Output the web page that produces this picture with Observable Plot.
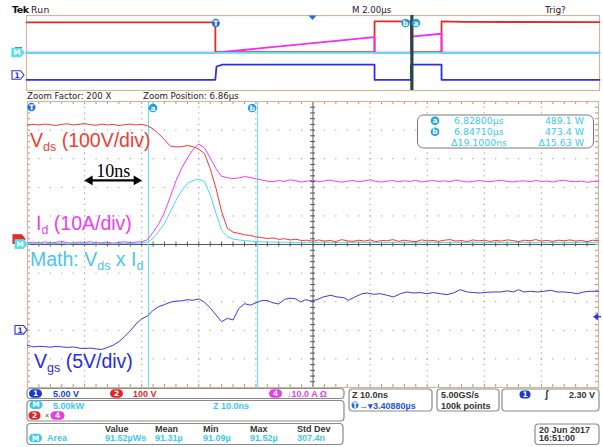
<!DOCTYPE html>
<html>
<head>
<meta charset="utf-8">
<script src="https://cdn.jsdelivr.net/npm/d3@7"></script>
<script src="https://cdn.jsdelivr.net/npm/@observablehq/plot@0.6"></script>
<style>
  body { margin: 0; background: #fff; }
  #scope { position: relative; width: 603px; height: 447px; overflow: hidden; background: #fff; }
  #scope > svg { position: absolute; left: 0; top: 0; }
</style>
</head>
<body>
<div id="scope"></div>
<script>
// ---------- acquisition settings ----------
const overviewUsPerDiv = 2;          // main timebase, µs/div
const zoomNsPerDiv = 10;             // zoom timebase, ns/div
const triggerToCenterUs = 3.4088;    // trigger -> screen centre
const zoomPositionUs = 6.86;
const windowStartNs = 6806.8;        // left edge of the zoom window
const cursorNs = [6828.0, 6847.1];   // cursors a, b
const cursorW = [489.06, 473.43];    // Math value at cursors a, b

// channel scaling (units per division) and ground position (divisions from centre)
const perDiv = { Vds: 100, Id: 10, Math: 5, Vgs: 5 };
const groundDiv = { Vds: 0.12, Id: 0.035, Math: 0, Vgs: -3 };
const traceColor = { Vds: "#ec3a30", Id: "#f03cf0", Math: "#44dcee", Vgs: "#3838e6" };

// ---------- zoom window samples (1 ns apart) ----------
const sampleNs = d3.range(101).map(i => windowStartNs + i);

const vdsVolts = [
  405, 408, 406, 409, 407, 404, 408, 410, 406, 408, 411, 407, 405, 409, 406, 408, 404, 407, 409, 406, 408,
  403, 392, 375, 354, 332, 329, 330, 334, 330, 321, 306, 253, 185, 103, 45, 31, 27, 22, 20, 15, 12, 9, 11, 6, 8, 4, 6, 2,
  3, -1, 4, 0, 2, -2, 5, 1, -1, 3, 0, 4, -2, 2, 1, 5, -1, 3, 0, -2,
  4, 1, 2, -1, 3, 5, 0, 2, -2, 4, 1, 3, -1, 2, 0, 4, 2, -2, 3, 1,
  5, 0, 2, -1, 3, 1, 4, 0, 2, -2, 3, 1
];

const idAmps = [
  0.3, 0.5, 0.1, 0.6, 0.2, 0.4, 0.7, 0.3, 0.1, 0.5, 0.4, 0.6, 0.2, 0.3, 0.5, 0.1, 0.4, 0.6, 0.3, 0.5, 0.6,
  1.3, 3.9, 6.9, 11.0, 16.3, 21.9, 26.4, 29.8, 32.9, 34.8, 33.4, 30.0, 26.2, 23.5, 23.0, 22.7, 22.9, 23.4, 23.1, 22.6, 22.2, 21.8,
  21.6, 22.0, 21.7, 22.3, 21.9, 21.5, 21.8, 22.1, 21.6, 21.9,
  22.2, 21.7, 21.4, 21.8, 22.0, 21.6, 21.9, 22.3, 21.7, 21.5,
  21.8, 22.0, 21.6, 21.9, 21.7, 22.1, 21.5, 21.8, 22.0, 21.7,
  21.9, 21.6, 22.2, 21.8, 21.5, 21.7, 22.0, 21.8, 21.6, 21.9,
  22.1, 21.7, 21.5, 21.8, 21.9, 21.6, 22.0, 21.7, 21.8, 21.5,
  21.9, 22.1, 21.7, 21.6, 21.8, 21.4, 21.7, 21.9
];

const mathKW = [
  0.15, 0.2, 0.1, 0.25, 0.12, 0.18, 0.22, 0.1, 0.16, 0.2, 0.14, 0.24, 0.1, 0.18, 0.2, 0.12, 0.16, 0.22, 0.14, 0.2, 0.28,
  0.42, 1.1, 2.3, 3.7, 5.7, 7.7, 9.4, 10.7, 11.2, 11.4, 11.0, 8.7, 5.5, 2.5, 1.4, 0.95, 0.8, 0.68, 0.6, 0.49, 0.46, 0.43, 0.41, 0.38,
  0.42, 0.35, 0.4, 0.32, 0.38, 0.3, 0.36, 0.41, 0.33, 0.37,
  0.29, 0.39, 0.34, 0.42, 0.31, 0.36, 0.4, 0.3, 0.37, 0.33,
  0.41, 0.32, 0.36, 0.28, 0.39, 0.34, 0.42, 0.31, 0.37, 0.33,
  0.4, 0.35, 0.3, 0.41, 0.34, 0.37, 0.31, 0.42, 0.35, 0.29,
  0.38, 0.33, 0.4, 0.32, 0.36, 0.42, 0.3, 0.35, 0.39, 0.33,
  0.37, 0.31, 0.41, 0.34, 0.32, 0.37
];

// gate voltage, ns from window start
const vgsNs = [
  0, 1, 2, 3, 4, 5, 6, 7, 8, 9, 10, 11, 12, 13, 14, 15, 16, 17, 18, 19, 20, 21, 22, 23, 24,
  25, 26, 27, 28, 29, 30, 31, 32, 33, 34, 35, 36, 37, 38, 39, 40, 41, 42, 43, 44, 45, 46, 47,
  47.8, 48.7, 49.6, 50.7, 51.8, 53.1, 54.2, 55.4, 56.2, 57.1, 58.6, 59.5, 60.6, 61.8, 63, 64.1,
  65.3, 66.5, 67.6, 68.8, 70, 71.1, 72.3, 73.5, 74.6, 75.8, 77, 78.1, 79.3, 80.5, 81.6, 82.8,
  84, 85.1, 86, 86.9, 88.1, 89.3, 90.4, 91.6, 92.8, 93.9, 95.1, 96.3, 97.4, 98.6, 100
];
const vgsVolts = [
  -2.6, -2.9, -2.8, -2.85, -2.95, -2.8, -2.9, -3.0, -2.9, -3.1, -3.2, -3.1, -3.25, -3.35, -3.0, -2.6, -2.0, -1.1, -0.1, 1.1,
  2.0, 2.5, 3.5, 4.15, 4.5, 4.9, 5.1, 5.15, 5.35, 5.25, 5.5, 4.9, 3.9, 2.7, 1.5, 2.1, 1.8, 3.8, 4.65, 4.4, 4.8, 5.2, 5.2, 4.8,
  4.6, 5.4, 5.6, 5.5,
  4.95, 5.36, 5.13, 5.36, 5.83, 6.12, 5.83, 5.71, 5.24, 5.71, 6.4, 6.52, 6.29, 6.4, 6.12, 5.83,
  6.4, 6.7, 6.52, 6.6, 6.4, 6.6, 6.4, 6.24, 6.52, 7.1, 6.7, 6.6, 6.52, 6.65, 6.7, 6.7,
  6.9, 6.7, 7.1, 6.7, 6.82, 6.7, 6.82, 7.0, 6.7, 6.7, 6.6, 6.4, 6.7, 6.82, 6.82
];

// ---------- record-length overview (µs from trigger) ----------
const overviewStartUs = triggerToCenterUs - 5 * overviewUsPerDiv;
const overviewEndUs = triggerToCenterUs + 5 * overviewUsPerDiv;
const ovVdsUs = [overviewStartUs, 0, 0, 5.557, 5.557, 6.828, 6.828, 7.895, 7.895, 8.6, overviewEndUs];
const ovVdsVolts = [397, 397, 0, 0, 410, 410, 0, 0, 410, 402, 400];
const ovIdUs = [overviewStartUs, 0, 5.557, 5.557, 6.828, 6.828, 7.895, 7.895, overviewEndUs];
const ovIdAmps = [0, 0, 20.7, 0, 0, 21.6, 25.3, 0, 0];
const ovVgsUs = [overviewStartUs, 0, 0.04, 0.25, 5.557, 5.557, 6.828, 6.828, 7.895, 7.895, overviewEndUs];
const ovVgsVolts = [-2.85, -2.85, 6.0, 7.3, 7.3, -2.85, -2.85, 7.3, 7.3, -2.85, -2.85];
const ovMathUs = [overviewStartUs, overviewEndUs];
const ovMathKW = [0.1, 0.1];

// ---------- helpers ----------
const toDiv = (ch, v) => groundDiv[ch] + v / perDiv[ch];
const series = (ch, ts, vs) => ts.map((t, i) => ({ t, y: toDiv(ch, vs[i]), ch }));

const mainVds = series("Vds", sampleNs, vdsVolts);
const mainId = series("Id", sampleNs, idAmps);
// the Math trace goes through the cursor read-outs
const mainMath = series("Math", sampleNs.concat(cursorNs), mathKW.concat(cursorW.map(w => w / 1000)))
  .sort((a, b) => a.t - b.t);
const mainVgs = series("Vgs", vgsNs.map(d => windowStartNs + d), vgsVolts);

const windowEndNs = windowStartNs + 10 * zoomNsPerDiv;
const centerNs = windowStartNs + 5 * zoomNsPerDiv;
const majorNs = d3.range(1, 10).map(k => windowStartNs + k * zoomNsPerDiv);
const minorNs = d3.range(1, 50).map(k => windowStartNs + k * zoomNsPerDiv / 5);
const majorDiv = d3.range(-4, 5);
const minorDiv = d3.range(-24, 25).map(k => k / 5);

const gridDots = [
  ...majorNs.filter(x => Math.abs(x - centerNs) > 1e-6).flatMap(x => minorDiv.map(y => ({ x, y }))),
  ...majorDiv.filter(y => y !== 0).flatMap(y => minorNs.map(x => ({ x, y })))
];

const nsPerPx = (10 * zoomNsPerDiv) / 571;
const divPerPx = 10 / 286;
const tan = "#d2b79e";

// ---------- zoom window ----------
const arrowDiv = 2.24;
const arrowFrom = windowStartNs + zoomNsPerDiv;     // one division long
const arrowTo = arrowFrom + zoomNsPerDiv;
const headNs = 5.2 * nsPerPx;

const main = Plot.plot({
  width: 603, height: 447,
  marginLeft: 27, marginRight: 5, marginTop: 101, marginBottom: 60,
  x: { domain: [windowStartNs, windowEndNs], axis: null },
  y: { domain: [-5, 5], axis: null },
  style: { background: "none", overflow: "visible" },
  marks: [
    Plot.dot(gridDots, { x: "x", y: "y", r: 0.65, fill: "#9a9a9a", stroke: null }),
    // centre cross with sub-division ticks
    Plot.ruleX([centerNs], { stroke: "#555", strokeWidth: 1 }),
    Plot.ruleY([0], { stroke: "#555", strokeWidth: 1 }),
    Plot.ruleY(minorDiv, { y: d => d, x1: centerNs - 2.5 * nsPerPx, x2: centerNs + 2.5 * nsPerPx, stroke: "#555" }),
    Plot.ruleX(minorNs, { x: d => d, y1: -2.5 * divPerPx, y2: 2.5 * divPerPx, stroke: "#555" }),
    // edge ticks
    Plot.ruleX(minorNs, { x: d => d, y1: 5, y2: 5 - 3 * divPerPx, stroke: "#999" }),
    Plot.ruleX(minorNs, { x: d => d, y1: -5, y2: -5 + 3 * divPerPx, stroke: "#999" }),
    Plot.ruleY(minorDiv, { y: d => d, x1: windowStartNs, x2: windowStartNs + 3 * nsPerPx, stroke: "#999" }),
    Plot.ruleY(minorDiv, { y: d => d, x1: windowEndNs, x2: windowEndNs - 3 * nsPerPx, stroke: "#999" }),
    Plot.frame({ stroke: tan, strokeWidth: 1.2 }),
    // cursors
    Plot.ruleX(cursorNs, { stroke: "#66dcef", strokeWidth: 1 }),
    // traces
    Plot.line(mainVgs, { x: "t", y: "y", stroke: traceColor.Vgs, strokeWidth: 1 }),
    Plot.line(mainId, { x: "t", y: "y", stroke: traceColor.Id, strokeWidth: 1 }),
    Plot.line(mainMath, { x: "t", y: "y", stroke: traceColor.Math, strokeWidth: 1 }),
    Plot.line(mainVds, { x: "t", y: "y", stroke: traceColor.Vds, strokeWidth: 1 }),
    // 10 ns marker
    Plot.link([{ a: arrowFrom + headNs, b: arrowTo - headNs }], { x1: "a", x2: "b", y1: arrowDiv, y2: arrowDiv, stroke: "#000", strokeWidth: 2.2 }),
    Plot.dot([{ x: arrowFrom + headNs, r: -90 }, { x: arrowTo - headNs, r: 90 }], {
      x: "x", y: arrowDiv, rotate: "r", symbol: "triangle", r: 3.6, fill: "#000", stroke: null
    }),
    Plot.text([{ x: (arrowFrom + arrowTo) / 2 }], {
      x: "x", y: arrowDiv, text: () => `${zoomNsPerDiv}ns`, dy: -3.5, lineAnchor: "bottom",
      fontFamily: "'Liberation Serif', 'Times New Roman', serif", fontSize: 18, fill: "#000"
    })
  ]
});

// ---------- overview ----------
const overview = Plot.plot({
  width: 603, height: 100,
  marginLeft: 26, marginRight: 4, marginTop: 15, marginBottom: 10,
  x: { domain: [overviewStartUs, overviewEndUs], axis: null },
  y: { domain: [-5, 5], axis: null },
  style: { background: "none", overflow: "visible" },
  marks: [
    Plot.frame({ stroke: tan, strokeWidth: 1.2 }),
    Plot.line(series("Vds", ovVdsUs, ovVdsVolts), { x: "t", y: "y", stroke: "#e52a22", strokeWidth: 1.8 }),
    Plot.line(series("Id", ovIdUs, ovIdAmps), { x: "t", y: "y", stroke: "#ee30ee", strokeWidth: 1.8 }),
    Plot.line(series("Math", ovMathUs, ovMathKW), { x: "t", y: "y", stroke: "#4fe6f2", strokeWidth: 1.8 }),
    Plot.line(series("Vgs", ovVgsUs, ovVgsVolts), { x: "t", y: "y", stroke: "#2f2fe0", strokeWidth: 1.8 }),
    Plot.ruleX([zoomPositionUs], { stroke: "#2c4646", strokeWidth: 3.2 })
  ]
});

const host = document.getElementById("scope");
host.append(overview);
host.append(main);

// ---------- read-outs and markers ----------
const mx = main.scale("x"), my = main.scale("y");
const ox = overview.scale("x"), oy = overview.scale("y");

const ui = d3.select(host).append("svg").attr("width", 603).attr("height", 447);
const UI_FONT = "'DejaVu Sans', Verdana, sans-serif";
const BOX_FONT = "'Liberation Sans', Arial, sans-serif";

function txt(x, y, s, o = {}) {
  return ui.append("text").attr("x", x).attr("y", y).text(s)
    .attr("fill", o.fill || "#222").attr("font-size", o.size || 8.6)
    .attr("font-family", o.font || UI_FONT).attr("font-weight", o.weight || "normal")
    .attr("text-anchor", o.anchor || "start");
}
function pill(cx, cy, label, fill, o = {}) {
  const w = o.w || 12, h = o.h || 8.5;
  ui.append("rect").attr("x", cx - w / 2).attr("y", cy - h / 2).attr("width", w).attr("height", h)
    .attr("rx", h / 2).attr("fill", fill);
  txt(cx, cy + 2.6, label, { fill: "#fff", size: 7.5, weight: "bold", anchor: "middle" });
}
function roundBadge(cx, cy, label, fill = "#1e9ee2") {
  ui.append("circle").attr("cx", cx).attr("cy", cy).attr("r", 4.3).attr("fill", fill);
  txt(cx, cy + 2.6, label, { fill: "#fff", size: 7.5, weight: "bold", anchor: "middle" });
}
function tag(xr, cy, label, color, filled) {
  ui.append("path")
    .attr("d", `M${xr - 12},${cy - 4.3}H${xr - 3.5}L${xr},${cy}L${xr - 3.5},${cy + 4.3}H${xr - 12}Z`)
    .attr("fill", filled ? color : "#fff").attr("stroke", color).attr("stroke-width", 1.1);
  if (label) txt(xr - 7, cy + 2.8, label, { fill: filled ? "#fff" : color, size: 7.5, weight: "bold", anchor: "middle" });
}
function box(x, y, w, h) {
  ui.append("rect").attr("x", x).attr("y", y).attr("width", w).attr("height", h).attr("rx", 3.5)
    .attr("fill", "#fff").attr("stroke", "#8a8a8a").attr("stroke-width", 1.2);
}
function richLabel(x, y, parts, color) {
  const t = ui.append("text").attr("x", x).attr("y", y).attr("fill", color)
    .attr("font-family", BOX_FONT).attr("font-size", 19.5);
  let low = false;
  for (const [s, sub] of parts) {
    const sp = t.append("tspan").text(s);
    if (sub) { sp.attr("font-size", 12.5); if (!low) { sp.attr("dy", 4); low = true; } }
    else if (low) { sp.attr("dy", -4); low = false; }
  }
}

// header
txt(12, 13.4, "Tek", { size: 9.5, weight: "bold", fill: "#111" }).attr("letter-spacing", -0.4);
txt(31, 13.4, "Run", { size: 9.2, fill: "#222" }).attr("letter-spacing", 0.4);
txt(352, 13.4, `M ${overviewUsPerDiv.toFixed(2)}µs`, { size: 8.6 });
txt(545, 13.4, "Trig?", { size: 9 });
txt(27, 99.3, `Zoom Factor: ${overviewUsPerDiv * 1000 / zoomNsPerDiv} X`, { size: 8.6 });
txt(143, 99.3, `Zoom Position: ${zoomPositionUs.toFixed(2)}µs`, { size: 8.6 });

// overview markers
ui.append("path").attr("d", `M${ox.apply(triggerToCenterUs) - 4},15.5h8l-4,4.5z`).attr("fill", "#1f6fd2");
pill(ox.apply(0) + 1, 23, "T", "#1f6fd2", { w: 8, h: 8.5 });
roundBadge(ox.apply(cursorNs[1] / 1000) - 5.5, 23, "b");
roundBadge(ox.apply(cursorNs[0] / 1000) + 5.5, 23, "a");
ui.append("line").attr("x1", 15).attr("x2", 22).attr("y1", oy.apply(0) - 4.8).attr("y2", oy.apply(0) - 4.8).attr("stroke", "#555");
tag(24, oy.apply(0), "M", "#4fe0f0", true);
tag(24, oy.apply(groundDiv.Vgs), "1", "#2f2fe0", false);

// zoom-window markers
pill(mx.apply(windowStartNs) + 4.5, 107, "T", "#1f6fd2", { w: 8, h: 8.5 });
roundBadge(mx.apply(cursorNs[0]) + 5, 108, "a");
roundBadge(mx.apply(cursorNs[1]) - 5, 108, "b");
tag(25, my.apply(groundDiv.Vds) - 1.5, "", "#e52a22", true);   // channel 2 marker, mostly under M
tag(27, my.apply(groundDiv.Math), "M", "#4fe0f0", true);
tag(27, my.apply(groundDiv.Vgs), "1", "#2f2fe0", false);
const trigLevelV = 2.30;
const tly = my.apply(toDiv("Vgs", trigLevelV));
ui.append("path").attr("d", `M593,${tly}l5,-3.5v7z`).attr("fill", "#2f2fe0");
ui.append("line").attr("x1", 596).attr("x2", 601).attr("y1", tly).attr("y2", tly).attr("stroke", "#2f2fe0").attr("stroke-width", 1.5);

// trace labels
richLabel(30, 146.5, [["V"], ["ds", 1], [" (100V/div)"]], "#ea4034");
richLabel(36, 230, [["I"], ["d", 1], [" (10A/div)"]], "#ee3cee");
richLabel(30, 265.5, [["Math: V"], ["ds", 1], [" x I"], ["d", 1]], "#4cc4f0");
richLabel(34, 368, [["V"], ["gs", 1], [" (5V/div)"]], "#2b2be0");

// cursor read-out
const cy0 = 124, cyan = "#3cc8ee";
ui.append("rect").attr("x", 417.5).attr("y", 115).attr("width", 176).attr("height", 33).attr("rx", 6)
  .attr("fill", "#fff").attr("stroke", "#777").attr("stroke-width", 1);
roundBadge(435, 120.8, "a", "#1e9ee2");
roundBadge(435, 131.8, "b", "#1e9ee2");
txt(454, cy0, `${(cursorNs[0] / 1000).toFixed(5)}µs`, { fill: cyan, size: 9.4 });
txt(454, cy0 + 11, `${(cursorNs[1] / 1000).toFixed(5)}µs`, { fill: cyan, size: 9.4 });
txt(451, cy0 + 21.5, `Δ${(cursorNs[1] - cursorNs[0]).toFixed(4)}ns`, { fill: cyan, size: 9.4 });
txt(584, cy0, `${cursorW[0].toFixed(1)} W`, { fill: cyan, size: 9.4, anchor: "end" });
txt(584, cy0 + 11, `${cursorW[1].toFixed(1)} W`, { fill: cyan, size: 9.4, anchor: "end" });
txt(584, cy0 + 21.5, `Δ${(cursorW[0] - cursorW[1]).toFixed(2)} W`, { fill: cyan, size: 9.4, anchor: "end" });

// ---------- bottom status panel ----------
const blue = "#2040d8", red = "#e02828", pink = "#e83ce8", dark = "#333";
const bf = { font: BOX_FONT, size: 9, weight: "bold" };
box(27, 388.5, 317, 10);
pill(35.5, 393.5, "1", "#1a3ad0", { w: 13 });
txt(53, 397.2, `${perDiv.Vgs.toFixed(2)} V`, { ...bf, fill: blue });
pill(116.5, 393.5, "2", red, { w: 13 });
txt(133, 397.2, `${perDiv.Vds} V`, { ...bf, fill: red });
pill(275.5, 393.5, "4", pink, { w: 13 });
txt(287, 397.2, `↓${perDiv.Id.toFixed(1)} A Ω`, { ...bf, fill: pink });

box(27, 400.5, 317, 20.5);
pill(36, 404.8, "M", "#3cc8ee", { w: 13 });
txt(53, 408.6, `${perDiv.Math.toFixed(2)}kW`, { ...bf, fill: cyan });
txt(213, 408.6, `Z ${zoomNsPerDiv.toFixed(1)}ns`, { ...bf, fill: cyan });
pill(34.5, 415.6, "2", red, { w: 12 });
txt(45, 418, "×", { ...bf, fill: "#777", size: 7 });
pill(57.5, 415.6, "4", pink, { w: 14 });

box(27, 423.5, 316, 21);
const statNames = ["Value", "Mean", "Min", "Max", "Std Dev"];
const statText = ["91.52µWs", "91.31µ", "91.09µ", "91.52µ", "307.4n"];
const statX = [105, 155, 203, 250, 297];
statNames.forEach((s, i) => txt(statX[i], 432, s, { ...bf, fill: dark }));
pill(35.5, 438, "M", "#3cc8ee", { w: 13 });
txt(47, 441.3, "Area", { ...bf, fill: cyan });
statText.forEach((s, i) => txt(statX[i], 441.3, s, { ...bf, fill: cyan }));

box(349, 389, 83, 22);
txt(352, 398.3, `Z ${zoomNsPerDiv.toFixed(1)}ns`, { ...bf, fill: dark });
pill(355, 405, "T", "#1f6fd2", { w: 7, h: 7 });
txt(359, 408.5, `→▾${triggerToCenterUs.toFixed(5)}µs`, { ...bf, fill: "#2456d4" });

box(437, 389, 62, 22);
txt(441, 398.3, "5.00GS/s", { ...bf, fill: dark });
txt(441, 408.5, "100k points", { ...bf, fill: dark });

box(502, 389, 97, 22);
pill(525, 394.5, "1", "#1a3ad0", { w: 11, h: 8 });
txt(545, 398.3, "ʃ", { ...bf, fill: dark, size: 10 });
txt(595, 398.3, `${trigLevelV.toFixed(2)} V`, { ...bf, fill: dark, anchor: "end" });

box(535, 424, 64, 20.5);
txt(539, 432.6, "20 Jun 2017", { ...bf, fill: dark });
txt(539, 441.3, "16:51:00", { ...bf, fill: dark });
</script>
</body>
</html>
